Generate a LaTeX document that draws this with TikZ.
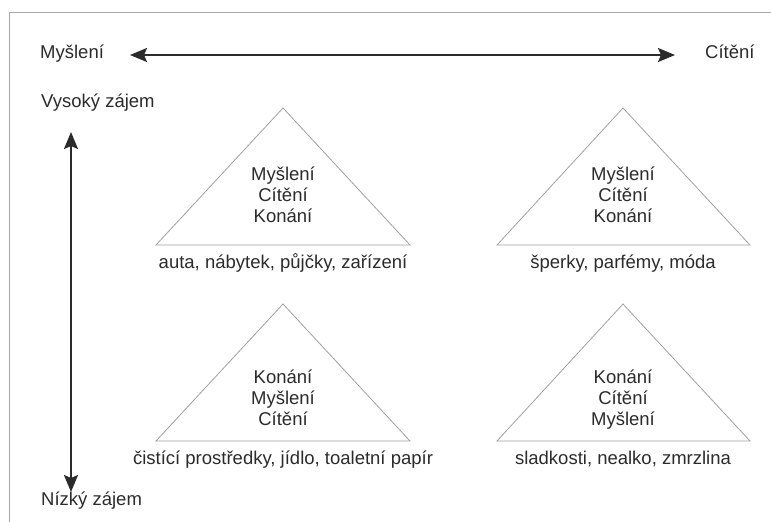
\documentclass[tikz,border=0pt]{standalone}
\usepackage{fontspec}
\setmainfont{Liberation Sans}
\usetikzlibrary{arrows.meta}
\definecolor{txt}{HTML}{2B2B2B}
\definecolor{tri}{HTML}{A0A0A0}
\definecolor{frame}{HTML}{A8A8A8}
\tikzset{
  lbl/.style={font=\fontsize{18.5}{21}\selectfont, text=txt, inner sep=0pt, text height=0.72em, text depth=0.2em},
  mid/.style={lbl, align=center},
  tri/.style={draw=tri, line width=0.8pt, line join=miter},
  bigarrow/.style={draw=txt, line width=2pt, {Stealth[length=17pt,width=14pt,inset=3pt]}-{Stealth[length=17pt,width=14pt,inset=3pt]}},
}
\begin{document}
\begin{tikzpicture}[x=1pt,y=-1pt]
\useasboundingbox (0,0) rectangle (771,522);
% frame
\draw[frame, line width=1pt] (9.5,522) -- (9.5,12) -- (771,12);
% axis labels
\node[lbl, anchor=west] (mys) at (40,56) {Myšlení};
\node[lbl, anchor=west] (cit) at (705,56) {Cítění};
\node[lbl, anchor=west] (vys) at (41,105) {Vysoký zájem};
\node[lbl, anchor=west] (niz) at (41,503) {Nízký zájem};
% arrows
\coordinate (hl) at (130,55);
\coordinate (hr) at (675,55);
\draw[bigarrow] (hl) -- (hr);
\coordinate (vt) at (71,132);
\coordinate (vb) at (71,492);
\draw[bigarrow] (vt) -- (vb);
% triangles
\draw[tri] (156,245) -- (283,108) -- (410,245) -- cycle;
\draw[tri] (497,245) -- (623,108) -- (750,245) -- cycle;
\draw[tri] (156,441) -- (283,304) -- (410,441) -- cycle;
\draw[tri] (497,441) -- (623,304) -- (750,441) -- cycle;
% triangle texts
\node[mid] (t1) at (283,219.5) {Myšlení\\Cítění\\Konání};
\node[mid] (t2) at (623,219.5) {Myšlení\\Cítění\\Konání};
\node[mid] (t3) at (283,423) {Konání\\Myšlení\\Cítění};
\node[mid] (t4) at (623,423) {Konání\\Cítění\\Myšlení};
% captions
\node[lbl] (c1) at (283,266) {auta, nábytek, půjčky, zařízení};
\node[lbl] (c2) at (623,266) {šperky, parfémy, móda};
\node[lbl] (c3) at (283,462) {čistící prostředky, jídlo, toaletní papír};
\node[lbl] (c4) at (623,462) {sladkosti, nealko, zmrzlina};
\end{tikzpicture}
\end{document}
